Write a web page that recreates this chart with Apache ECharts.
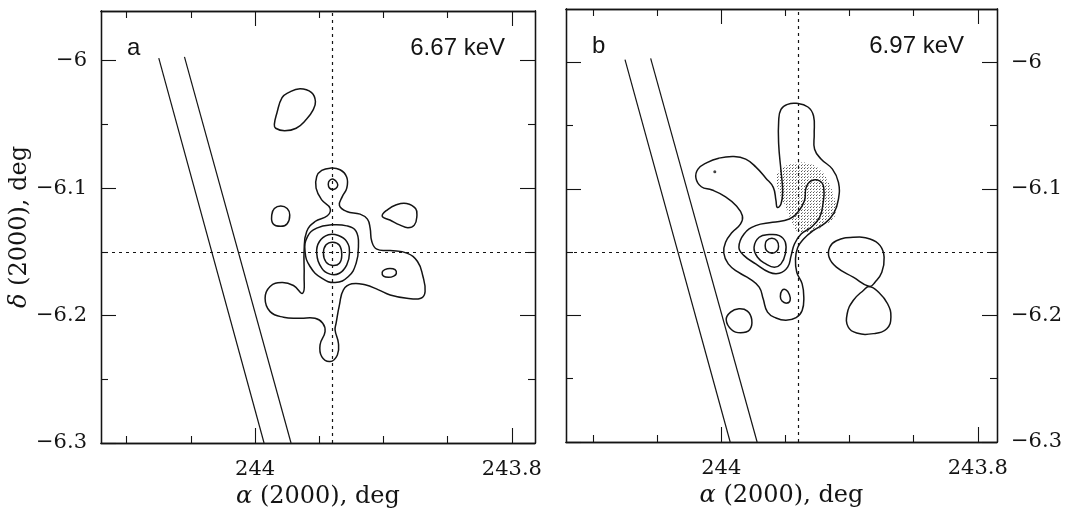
<!DOCTYPE html>
<html>
<head>
<meta charset="utf-8">
<script src="https://cdn.jsdelivr.net/npm/echarts@6/dist/echarts.min.js"></script>
<style>
html, body { margin: 0; padding: 0; background: #fff; }
#main { width: 1071px; height: 510px; }
</style>
</head>
<body>
<div id="main"></div>
<script>
// axis ranges and ticks (deg)
var raRangeA = [243.782, 244.12];
var raRangeB = [243.785, 244.121];
var decRangeA = [-6.3, -5.961];
var decRangeB = [-6.3, -5.958];

var raMajor = [244, 243.8];
var raMajorLabels = ['244', '243.8'];
var raMinor = [244.1, 244.05, 243.95, 243.9, 243.85];
var decMajor = [-6, -6.1, -6.2, -6.3];
var decMajorLabels = ['−6', '−6.1', '−6.2', '−6.3'];
var decMinor = [-6.05, -6.15, -6.25];

// source position, dotted cross
var srcRa = 243.943;
var srcDec = -6.149;

// the two straight edges of the strip
var stripEdge1 = [[244.075, -5.998], [243.993, -6.3]];
var stripEdge2 = [[244.055, -5.997], [243.972, -6.3]];

// ---------- 6.67 keV contours ----------
var a_top = [[243.979,-6.029],[243.974,-6.025],[243.965,-6.022],[243.956,-6.025],[243.953,-6.032],[243.955,-6.039],[243.960,-6.046],[243.968,-6.053],[243.977,-6.055],[243.984,-6.053],[243.985,-6.050],[243.983,-6.041]];
var a_left = [[243.987,-6.121],[243.985,-6.116],[243.980,-6.114],[243.975,-6.116],[243.973,-6.121],[243.975,-6.128],[243.980,-6.130],[243.986,-6.128]];
var a_right = [[243.901,-6.122],[243.897,-6.117],[243.890,-6.113],[243.882,-6.112],[243.875,-6.116],[243.874,-6.122],[243.876,-6.129],[243.881,-6.131],[243.887,-6.129],[243.895,-6.125]];
var a_small = [[243.901,-6.166],[243.899,-6.164],[243.895,-6.163],[243.891,-6.164],[243.890,-6.167],[243.892,-6.169],[243.896,-6.170],[243.900,-6.169]];
var a_knot = [[243.943,-6.097],[243.942,-6.094],[243.939,-6.093],[243.936,-6.096],[243.936,-6.099],[243.939,-6.101],[243.942,-6.100]];
var a_outer = [[243.9416,-6.0843],[243.9338,-6.0856],[243.9286,-6.0914],[243.9286,-6.1000],[243.9320,-6.1065],[243.9343,-6.1136],[243.9286,-6.1183],[243.9182,-6.1204],[243.9125,-6.1243],[243.9104,-6.1314],[243.9091,-6.1419],[243.9052,-6.1479],[243.8948,-6.1490],[243.8818,-6.1510],[243.8735,-6.1576],[243.8694,-6.1688],[243.8676,-6.1812],[243.8709,-6.1864],[243.8818,-6.1864],[243.8948,-6.1838],[243.9039,-6.1798],[243.9143,-6.1759],[243.9247,-6.1751],[243.9312,-6.1798],[243.9343,-6.1916],[243.9369,-6.2060],[243.9377,-6.2113],[243.9351,-6.2217],[243.9359,-6.2309],[243.9416,-6.2361],[243.9481,-6.2322],[243.9494,-6.2230],[243.9455,-6.2126],[243.9473,-6.2060],[243.9533,-6.2021],[243.9650,-6.2021],[243.9779,-6.2013],[243.9883,-6.1969],[243.9922,-6.1864],[243.9883,-6.1772],[243.9792,-6.1741],[243.9701,-6.1764],[243.9629,-6.1825],[243.9618,-6.1694],[243.9618,-6.1484],[243.9598,-6.1340],[243.9533,-6.1262],[243.9437,-6.1217],[243.9416,-6.1157],[243.9481,-6.1092],[243.9525,-6.1000],[243.9520,-6.0908],[243.9481,-6.0861]];
var a_ring3 = [[243.9611,-6.1497],[243.9592,-6.1380],[243.9520,-6.1314],[243.9403,-6.1288],[243.9286,-6.1296],[243.9213,-6.1340],[243.9195,-6.1458],[243.9213,-6.1589],[243.9273,-6.1694],[243.9377,-6.1741],[243.9481,-6.1707],[243.9572,-6.1615]];
var a_ring2 = [[243.9520,-6.1510],[243.9499,-6.1419],[243.9429,-6.1366],[243.9351,-6.1372],[243.9286,-6.1419],[243.9265,-6.1510],[243.9286,-6.1602],[243.9343,-6.1668],[243.9416,-6.1675],[243.9481,-6.1628]];
var a_ring1 = [[243.9468,-6.1510],[243.9447,-6.1445],[243.9395,-6.1424],[243.9343,-6.1448],[243.9325,-6.1524],[243.9343,-6.1589],[243.9395,-6.1607],[243.9447,-6.1581]];

// ---------- 6.97 keV contours ----------
var b_outer = [[244.0197,-6.0916],[244.0181,-6.0845],[244.0111,-6.0793],[244.0019,-6.0758],[243.9901,-6.0745],[243.9809,-6.0766],[243.9731,-6.0827],[243.9652,-6.0916],[243.9594,-6.0989],[243.9573,-6.1094],[243.9563,-6.1147],[243.9534,-6.1121],[243.9521,-6.1016],[243.9534,-6.0858],[243.9552,-6.0648],[243.9552,-6.0465],[243.9534,-6.0373],[243.9482,-6.0333],[243.9416,-6.0325],[243.9324,-6.0354],[243.9280,-6.0425],[243.9275,-6.0570],[243.9272,-6.0688],[243.9220,-6.0766],[243.9133,-6.0845],[243.9086,-6.0950],[243.9086,-6.1081],[243.9123,-6.1194],[243.9193,-6.1273],[243.9285,-6.1331],[243.9358,-6.1396],[243.9403,-6.1462],[243.9421,-6.1554],[243.9411,-6.1659],[243.9369,-6.1751],[243.9356,-6.1856],[243.9369,-6.1961],[243.9416,-6.2018],[243.9495,-6.2039],[243.9573,-6.2021],[243.9639,-6.1974],[243.9673,-6.1869],[243.9704,-6.1777],[243.9778,-6.1711],[243.9867,-6.1659],[243.9945,-6.1593],[243.9980,-6.1507],[243.9966,-6.1423],[243.9914,-6.1344],[243.9849,-6.1278],[243.9835,-6.1213],[243.9883,-6.1134],[243.9966,-6.1063],[244.0071,-6.1010],[244.0155,-6.0984]];
var b_ring2 = [[243.9862,-6.1462],[243.9822,-6.1357],[243.9731,-6.1291],[243.9600,-6.1265],[243.9469,-6.1239],[243.9403,-6.1186],[243.9351,-6.1094],[243.9338,-6.0989],[243.9298,-6.0937],[243.9233,-6.0937],[243.9201,-6.0989],[243.9207,-6.1121],[243.9233,-6.1226],[243.9298,-6.1304],[243.9377,-6.1357],[243.9429,-6.1436],[243.9455,-6.1528],[243.9482,-6.1619],[243.9547,-6.1667],[243.9626,-6.1659],[243.9731,-6.1593],[243.9822,-6.1528]];
var b_ring3 = [[243.9744,-6.1462],[243.9704,-6.1383],[243.9626,-6.1362],[243.9547,-6.1370],[243.9500,-6.1423],[243.9500,-6.1514],[243.9534,-6.1593],[243.9586,-6.1619],[243.9652,-6.1593],[243.9717,-6.1541]];
var b_ring4 = [[243.9657,-6.1449],[243.9647,-6.1410],[243.9605,-6.1391],[243.9566,-6.1410],[243.9553,-6.1457],[243.9568,-6.1494],[243.9605,-6.1509],[243.9647,-6.1488]];
var b_small = [[243.9539,-6.1850],[243.9526,-6.1803],[243.9495,-6.1798],[243.9469,-6.1835],[243.9463,-6.1882],[243.9489,-6.1903],[243.9526,-6.1887]];
var b_left = [[243.9961,-6.2034],[243.9927,-6.1974],[243.9862,-6.1948],[243.9796,-6.1966],[243.9762,-6.2034],[243.9778,-6.2113],[243.9849,-6.2137],[243.9919,-6.2113]];
var b_eightTop = [[243.8845,-6.1772],[243.8971,-6.1698],[243.9102,-6.1619],[243.9159,-6.1541],[243.9154,-6.1462],[243.9102,-6.1410],[243.8971,-6.1383],[243.8840,-6.1396],[243.8761,-6.1449],[243.8730,-6.1541],[243.8748,-6.1659],[243.8801,-6.1738]];
var b_eightBottom = [[243.8845,-6.1772],[243.8892,-6.1803],[243.8971,-6.1882],[243.9018,-6.1987],[243.9010,-6.2092],[243.8944,-6.2139],[243.8813,-6.2144],[243.8709,-6.2105],[243.8677,-6.2013],[243.8703,-6.1908],[243.8774,-6.1816]];
// stippled area
var b_shade = [[243.9560,-6.0871],[243.9495,-6.0819],[243.9403,-6.0793],[243.9298,-6.0806],[243.9220,-6.0858],[243.9167,-6.0937],[243.9123,-6.1055],[243.9102,-6.1160],[243.9128,-6.1239],[243.9180,-6.1278],[243.9259,-6.1325],[243.9338,-6.1344],[243.9416,-6.1331],[243.9448,-6.1265],[243.9482,-6.1186],[243.9516,-6.1108],[243.9547,-6.1029],[243.9568,-6.0950]];
var b_dot = [[244.0050, -6.0866]];

var contoursA = [a_top, a_left, a_right, a_small, a_knot, a_outer, a_ring3, a_ring2, a_ring1];
var contoursB = [b_outer, b_ring2, b_ring3, b_ring4, b_small, b_left, b_eightTop, b_eightBottom];


var chart = echarts.init(document.getElementById('main'), null, {renderer: 'canvas'});

var ink = '#141414';
var serif = 'DejaVu Serif';
var frameLine = {show: true, onZero: false, lineStyle: {color: ink, width: 1.3}};
var tickLine = {color: ink, width: 1.1};

function pickLabel(vals, labels) {
    return function (v) {
        for (var i = 0; i < vals.length; i++) {
            if (Math.abs(vals[i] - v) < 1e-6) return labels[i];
        }
        return '';
    };
}

// one axis of the frame; major axes carry the long ticks (and maybe labels)
function raAxis(grid, range, pos, major, withText) {
    return {
        gridIndex: grid, type: 'value', position: pos,
        min: range[0], max: range[1], inverse: true,
        splitLine: {show: false},
        axisLine: frameLine,
        axisTick: {show: true, inside: true, length: major ? 15 : 7,
                   customValues: major ? raMajor : raMinor, lineStyle: tickLine},
        axisLabel: withText ? {show: true, customValues: raMajor, margin: 16,
                               formatter: pickLabel(raMajor, raMajorLabels),
                               fontFamily: serif, fontSize: 21, color: ink} : {show: false},
        name: withText ? '{i|α} (2000), deg' : '',
        nameLocation: 'middle', nameGap: 36,
        nameTextStyle: {fontFamily: serif, fontSize: 24, color: ink,
                        rich: {i: {fontFamily: serif, fontSize: 24, fontStyle: 'italic', color: ink}}}
    };
}

function decAxis(grid, range, pos, major, withText, withName) {
    return {
        gridIndex: grid, type: 'value', position: pos,
        min: range[0], max: range[1],
        splitLine: {show: false},
        axisLine: frameLine,
        axisTick: {show: true, inside: true, length: major ? 15 : 7,
                   customValues: major ? decMajor : decMinor, lineStyle: tickLine},
        axisLabel: withText ? {show: true, customValues: decMajor, margin: 14,
                               formatter: pickLabel(decMajor, decMajorLabels),
                               fontFamily: serif, fontSize: 21, color: ink} : {show: false},
        name: withName ? '{i|δ} (2000), deg' : '',
        nameLocation: 'middle', nameGap: 67,
        nameTextStyle: {fontFamily: serif, fontSize: 24, color: ink,
                        rich: {i: {fontFamily: serif, fontSize: 24, fontStyle: 'italic', color: ink}}}
    };
}

// closed smooth contours drawn through the axes with api.coord
function contourSeries(grid, list, fill) {
    return {
        type: 'custom', xAxisIndex: grid * 4, yAxisIndex: grid * 4,
        silent: true, animation: false, clip: true,
        data: list.map(function (c, i) { return [c[0][0], c[0][1], i]; }),
        renderItem: function (params, api) {
            var c = list[api.value(2)];
            var pts = c.map(function (p) { return api.coord(p); });
            return {
                type: 'polygon',
                shape: {points: pts, smooth: 0.45},
                style: fill ? {fill: fill, stroke: null, lineWidth: 0}
                            : {fill: 'none', stroke: ink, lineWidth: 1.5}
            };
        }
    };
}

function stripSeries(grid, edge, withCross) {
    var s = {
        type: 'line', xAxisIndex: grid * 4, yAxisIndex: grid * 4,
        data: edge, showSymbol: false, silent: true, animation: false,
        lineStyle: {color: ink, width: 1.2}
    };
    if (withCross) {
        s.markLine = {
            silent: true, symbol: 'none', animation: false,
            label: {show: false},
            lineStyle: {color: ink, width: 1.2, type: [3, 4]},
            data: [{xAxis: srcRa}, {yAxis: srcDec}]
        };
    }
    return s;
}

// dotted fill for the stippled area
var dots = document.createElement('canvas');
dots.width = 3;
dots.height = 3;
var g = dots.getContext('2d');
g.fillStyle = '#555';
g.fillRect(0, 0, 1, 1);
g.fillStyle = '#999';
g.fillRect(1, 2, 1, 1);

var option = {
    backgroundColor: '#fff',
    animation: false,
    grid: [
        {left: 101, top: 11, width: 434, height: 432, containLabel: false, outerBoundsMode: 'none'},
        {left: 566, top: 9, width: 431, height: 433, containLabel: false, outerBoundsMode: 'none'}
    ],
    xAxis: [
        raAxis(0, raRangeA, 'bottom', true, true),
        raAxis(0, raRangeA, 'bottom', false, false),
        raAxis(0, raRangeA, 'top', true, false),
        raAxis(0, raRangeA, 'top', false, false),
        raAxis(1, raRangeB, 'bottom', true, true),
        raAxis(1, raRangeB, 'bottom', false, false),
        raAxis(1, raRangeB, 'top', true, false),
        raAxis(1, raRangeB, 'top', false, false)
    ],
    yAxis: [
        decAxis(0, decRangeA, 'left', true, true, true),
        decAxis(0, decRangeA, 'left', false, false, false),
        decAxis(0, decRangeA, 'right', true, false, false),
        decAxis(0, decRangeA, 'right', false, false, false),
        decAxis(1, decRangeB, 'right', true, true, false),
        decAxis(1, decRangeB, 'right', false, false, false),
        decAxis(1, decRangeB, 'left', true, false, false),
        decAxis(1, decRangeB, 'left', false, false, false)
    ],
    graphic: [
        {type: 'text', left: 127, top: 36, silent: true,
         style: {text: 'a', font: '24px "Liberation Sans"', fill: ink}},
        {type: 'text', right: 566, top: 36, silent: true,
         style: {text: '6.67 keV', font: '24px "Liberation Sans"', fill: ink}},
        {type: 'text', left: 592, top: 34, silent: true,
         style: {text: 'b', font: '24px "Liberation Sans"', fill: ink}},
        {type: 'text', right: 107, top: 34, silent: true,
         style: {text: '6.97 keV', font: '24px "Liberation Sans"', fill: ink}}
    ],
    series: [
        contourSeries(1, [b_shade], {image: dots, repeat: 'repeat'}),
        stripSeries(0, stripEdge1, true),
        stripSeries(0, stripEdge2, false),
        stripSeries(1, stripEdge1, true),
        stripSeries(1, stripEdge2, false),
        contourSeries(0, contoursA),
        contourSeries(1, contoursB),
        {
            type: 'scatter', xAxisIndex: 4, yAxisIndex: 4, data: b_dot,
            symbolSize: 3, silent: true, itemStyle: {color: ink}
        }
    ]
};

chart.setOption(option);
</script>
</body>
</html>
